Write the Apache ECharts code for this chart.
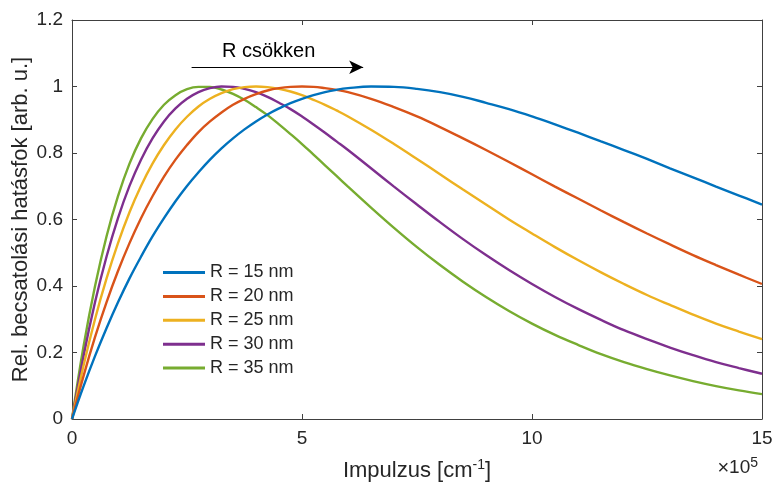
<!DOCTYPE html>
<html>
<head>
<meta charset="utf-8">
<script src="https://cdn.jsdelivr.net/npm/echarts@6/dist/echarts.min.js"></script>
<style>
  html, body { margin: 0; padding: 0; background: #fff; }
  #main { width: 773px; height: 487px; }
</style>
</head>
<body>
<div id="main"></div>
<script>
// impulzus (x 10^5 cm^-1)
var qVals = [0, 0.25, 0.5, 0.75, 1, 1.25, 1.5, 1.75, 2, 2.25, 2.5, 2.75, 3, 3.25, 3.5, 3.75, 4, 4.25, 4.5, 4.75,
  5, 5.25, 5.5, 5.75, 6, 6.5, 7, 7.5, 8, 8.5, 9, 9.5, 10, 10.5, 11, 11.5, 12, 12.5, 13, 13.5, 14, 14.5, 15];

var names = ['R = 15 nm', 'R = 20 nm', 'R = 25 nm', 'R = 30 nm', 'R = 35 nm'];
var colors = ['#0072BD', '#D95319', '#EDB120', '#7E2F8E', '#77AC30'];

var r15 = [0, 0.098, 0.189, 0.273, 0.351, 0.423, 0.488, 0.549, 0.604, 0.655, 0.701, 0.742, 0.780, 0.814, 0.844, 0.871,
  0.895, 0.916, 0.934, 0.950, 0.963, 0.974, 0.983, 0.990, 0.995, 1.000, 0.999, 0.993, 0.983, 0.969, 0.951, 0.932,
  0.910, 0.886, 0.861, 0.835, 0.809, 0.782, 0.754, 0.727, 0.699, 0.672, 0.645];
var r20 = [0, 0.129, 0.246, 0.351, 0.445, 0.529, 0.604, 0.670, 0.729, 0.780, 0.824, 0.863, 0.895, 0.922, 0.945, 0.963,
  0.977, 0.988, 0.995, 0.999, 1.000, 0.999, 0.995, 0.990, 0.983, 0.963, 0.938, 0.910, 0.878, 0.844, 0.809, 0.773,
  0.736, 0.699, 0.663, 0.627, 0.592, 0.558, 0.525, 0.493, 0.463, 0.434, 0.406];
var r25 = [0, 0.160, 0.300, 0.422, 0.529, 0.622, 0.701, 0.768, 0.824, 0.871, 0.909, 0.940, 0.963, 0.980, 0.992, 0.998,
  1.000, 0.998, 0.993, 0.985, 0.974, 0.960, 0.945, 0.928, 0.910, 0.870, 0.827, 0.782, 0.736, 0.690, 0.645, 0.600,
  0.558, 0.517, 0.478, 0.441, 0.406, 0.373, 0.343, 0.314, 0.287, 0.263, 0.240];
var r30 = [0, 0.189, 0.351, 0.488, 0.604, 0.701, 0.780, 0.844, 0.895, 0.934, 0.963, 0.983, 0.995, 1.000, 0.999, 0.993,
  0.983, 0.969, 0.951, 0.932, 0.910, 0.886, 0.861, 0.835, 0.809, 0.754, 0.699, 0.645, 0.592, 0.541, 0.493, 0.448,
  0.406, 0.367, 0.331, 0.298, 0.267, 0.240, 0.215, 0.192, 0.171, 0.153, 0.136];
var r35 = [0, 0.218, 0.399, 0.549, 0.670, 0.768, 0.844, 0.902, 0.945, 0.974, 0.992, 0.999, 0.999, 0.991, 0.978, 0.960,
  0.938, 0.914, 0.886, 0.857, 0.827, 0.795, 0.763, 0.731, 0.699, 0.636, 0.575, 0.517, 0.463, 0.413, 0.367, 0.325,
  0.287, 0.253, 0.223, 0.195, 0.171, 0.150, 0.131, 0.114, 0.099, 0.086, 0.075];
var curves = [r15, r20, r25, r30, r35];

var xTicks = [0, 5, 10, 15];
var yTicks = [0, 0.2, 0.4, 0.6, 0.8, 1, 1.2];

var font = 'Liberation Sans, Arial, Helvetica, sans-serif';
var axisCol = '#404040';
var textCol = '#262626';

var myChart = echarts.init(document.getElementById('main'));

function pairs(ys) {
  return ys.map(function (y, i) { return [qVals[i], y]; });
}

var series = curves.map(function (ys, i) {
  var s = {
    name: names[i],
    type: 'line',
    xAxisIndex: 0,
    yAxisIndex: 0,
    data: pairs(ys),
    smooth: 0.4,
    symbol: 'none',
    lineStyle: { color: colors[i], width: 2.4 },
    itemStyle: { color: colors[i] },
    z: 10 - i
  };
  if (i === 0) {
    // nyil: "R csokken"
    s.markLine = {
      silent: true,
      symbol: ['none', 'arrow'],
      symbolSize: [10, 14],
      label: { show: false },
      lineStyle: { color: '#000', width: 1, type: 'solid' },
      data: [[{ coord: [2.6, 1.058] }, { coord: [6.33, 1.058] }]]
    };
  }
  return s;
});

var commonX = {
  type: 'value', min: 0, max: 15, interval: 5,
  splitLine: { show: false },
  axisLine: { show: true, onZero: false, lineStyle: { color: axisCol, width: 1 } },
  axisTick: { show: true, inside: true, length: 5, lineStyle: { color: axisCol } }
};
var commonY = {
  type: 'value', min: 0, max: 1.2, interval: 0.2,
  splitLine: { show: false },
  axisLine: { show: true, onZero: false, lineStyle: { color: axisCol, width: 1 } },
  axisTick: { show: true, inside: true, length: 5, lineStyle: { color: axisCol } }
};

var option = {
  backgroundColor: '#fff',
  animation: false,
  grid: { left: 72, right: 11, top: 20, bottom: 68, containLabel: false, outerBoundsMode: 'none' },
  legend: {
    orient: 'vertical',
    left: 158,
    top: 258.5,
    icon: 'rect',
    itemWidth: 42,
    itemHeight: 3,
    itemGap: 5.9,
    data: names,
    textStyle: { fontFamily: font, fontSize: 18, color: textCol }
  },
  xAxis: [
    Object.assign({}, commonX, {
      position: 'bottom',
      name: '{n|Impulzus [cm}{s|-1}{n|]}',
      nameLocation: 'middle',
      nameGap: 39,
      nameMoveOverlap: false,
      nameTextStyle: {
        rich: {
          n: { fontFamily: font, fontSize: 22, color: textCol },
          s: { fontFamily: font, fontSize: 14, color: textCol, verticalAlign: 'top', padding: [0, 0, 12, 0] }
        }
      },
      axisLabel: {
        margin: 10, fontFamily: font, fontSize: 19, color: textCol,
        formatter: function (v) { return xTicks.indexOf(v) >= 0 ? String(v) : ''; }
      }
    }),
    Object.assign({}, commonX, { position: 'top', axisLabel: { show: false } })
  ],
  yAxis: [
    Object.assign({}, commonY, {
      position: 'left',
      name: 'Rel. becsatolási hatásfok [arb. u.]',
      nameLocation: 'middle',
      nameGap: 40,
      nameMoveOverlap: false,
      nameTextStyle: { fontFamily: font, fontSize: 22, color: textCol },
      axisLabel: {
        margin: 9, fontFamily: font, fontSize: 19, color: textCol,
        formatter: function (v) {
          var t = yTicks.filter(function (k) { return Math.abs(k - v) < 1e-9; });
          return t.length ? String(Math.round(v * 10) / 10) : '';
        }
      }
    }),
    Object.assign({}, commonY, { position: 'right', axisLabel: { show: false } })
  ],
  graphic: [
    {
      type: 'text', left: 222, top: 41,
      style: { text: 'R csökken', fontFamily: font, fontSize: 20, fill: '#000' }
    },
    {
      type: 'text', right: 15, top: 456,
      style: {
        text: '{a|×}{b|10}{c|5}',
        rich: {
          a: { fontFamily: font, fontSize: 20, fill: textCol },
          b: { fontFamily: font, fontSize: 19, fill: textCol },
          c: { fontFamily: font, fontSize: 14, fill: textCol, verticalAlign: 'top', padding: [0, 0, 10, 0] }
        }
      }
    }
  ],
  series: series
};

myChart.setOption(option);
</script>
</body>
</html>
